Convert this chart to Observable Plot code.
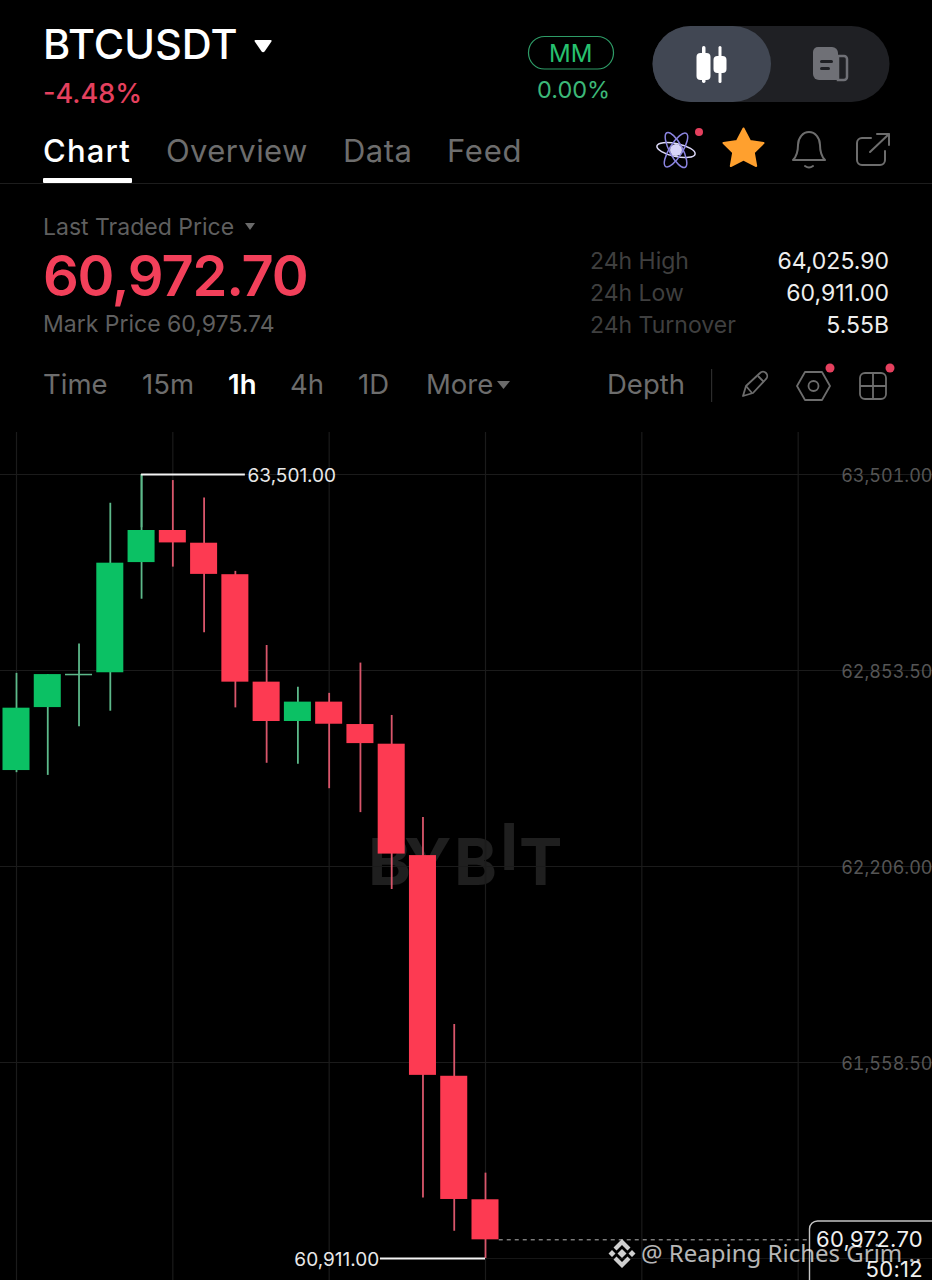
<!DOCTYPE html>
<html>
<head>
<meta charset="utf-8">
<script src="https://cdn.jsdelivr.net/npm/d3@7"></script>
<script src="https://cdn.jsdelivr.net/npm/@observablehq/plot@0.6"></script>
<style>
html,body{margin:0;padding:0;background:#000;width:932px;height:1280px;overflow:hidden}
#page{position:relative;width:932px;height:1280px;overflow:hidden;background:#000;font-family:Inter,sans-serif}
#page span.t{position:absolute;line-height:1;white-space:nowrap}
#page>svg{position:absolute;left:0}
</style>
</head>
<body>
<div id="page"></div>
<script>
// ---- chart data ----
const candleIndex = [0,1,2,3,4,5,6,7,8,9,10,11,12,13,14,15];
const opens  = [62523,62731,62836,62846,63210,63316,63274,63170,62815,62685,62749,62675,62610,62242,61513,61105];
const closes = [62729,62840,62841,63208,63316,63275,63171,62815,62685,62749,62676,62612,62247,61516,61106,60972.7];
const highs  = [62844,62840,62941,63406,63501,63481,63423,63181,62936,62798,62778,62878,62705,62368,61684,61193];
const lows   = [62516,62507,62668,62719,63089,63195,62978,62730,62547,62544,62463,62384,62130,61111,61001,60911];
const priceTicks = [63501,62853.5,62206,61558.5];
const timeGrid = [0,5,10,15,20,25];
const highValue = 63501, lowValue = 60911, lastValue = 60972.7;

const RED = "#fd3a52", GREEN = "#0bc164", RED_W = "#d9566b", GREEN_W = "#5db98a";
const candles = candleIndex.map((i,k)=>({i,open:opens[k],close:closes[k],high:highs[k],low:lows[k],up:closes[k]>=opens[k]}));
const fmt = d3.format(",.2f");

const page = document.getElementById("page");
function T(text,x,base,size,color,opt={}){
  const s=document.createElement("span");s.className="t";s.textContent=text;
  s.style.fontSize=size+"px";s.style.color=color;
  s.style.top=(base-0.864*size)+"px";
  if(opt.right!==undefined){s.style.right=(932-opt.right)+"px"}else{s.style.left=x+"px"}
  if(opt.weight)s.style.fontWeight=opt.weight;
  if(opt.ls)s.style.letterSpacing=opt.ls+"px";
  if(opt.family)s.style.fontFamily=opt.family;
  page.appendChild(s);return s;
}

// ---- chrome: shapes ----
const GR="#6d6d6d";
const shapes=`<svg width="932" height="432" style="top:0" aria-hidden="true">
<path d="M255.5 40h15q1.800 0 .8 1.800l-6.500 9.500q-1.800 2-3.400 0l-6.500-9.500q-1-1.800.6-1.800z" fill="#fff"/>
<rect x="528.500" y="36.500" width="85" height="32.500" rx="16" fill="none" stroke="#2e9c67" stroke-width="1.200"/>
<rect x="652.500" y="26" width="237" height="76" rx="38" fill="#1f2024"/>
<rect x="652.500" y="26" width="118.500" height="76" rx="38" fill="#414753"/>
<g fill="#fff"><rect x="702" y="46" width="3.500" height="37" rx="1.700"/><rect x="696.500" y="53" width="14" height="27" rx="4"/><rect x="718.500" y="46" width="3" height="37" rx="1.500"/><rect x="713.500" y="56" width="13" height="17" rx="4"/></g>
<path d="M813 52a5 5 0 0 1 5-5h14a6 6 0 0 1 6 6v27h-19a6 6 0 0 1-6-6z" fill="#6f7076"/><path d="M838 56h6a3 3 0 0 1 3 3v18a3 3 0 0 1-3 3h-6z" fill="none" stroke="#6f7076" stroke-width="2.500"/><rect x="820" y="60" width="13" height="3" rx="1.500" fill="#1f2024"/><rect x="820" y="67" width="10" height="3" rx="1.500" fill="#1f2024"/>
<g fill="none" stroke-width="1.500"><ellipse cx="676" cy="150" rx="19.500" ry="6.500" transform="rotate(12 676 150)" stroke="#dcd9f8"/><ellipse cx="676" cy="150" rx="19.500" ry="6.500" transform="rotate(62 676 150)" stroke="#8b84e0"/><ellipse cx="676" cy="150" rx="19.500" ry="6.500" transform="rotate(-58 676 150)" stroke="#8b84e0"/></g><circle cx="676" cy="150" r="6" fill="#d8d4fa"/>
<circle cx="699" cy="132" r="4" fill="#e5405e"/>
<path d="M743.500 128.500l6.500 12.500 13.500 2-9.700 9.500 2.400 13.500-12.700-6.500-12.700 6.500 2.400-13.500-9.700-9.500 13.500-2z" fill="#ffa02e" stroke="#ffa02e" stroke-width="2" stroke-linejoin="round"/>
<g fill="none" stroke="${GR}" stroke-width="2" stroke-linecap="round" stroke-linejoin="round"><path d="M793 160c4-4 5-8 5-15a11 13 0 0 1 22 0c0 7 1 11 5 15z"/><path d="M805 166q4 3 8 0"/>
<path d="M871 138h-9a5 5 0 0 0-5 5v17a5 5 0 0 0 5 5h18a5 5 0 0 0 5-5v-9"/><path d="M870 152l19-18M877 134h12v11"/></g>
<path d="M245 223h10l-5 7z" fill="#6a6a6a"/><path d="M497 381h13l-6.500 8z" fill="#6a6a6a"/>
<rect x="711" y="369" width="1.200" height="33" fill="#2c2c2c"/>
<g fill="none" stroke="${GR}" stroke-width="1.800" stroke-linejoin="round"><path d="M743 396l3-10 14-13a4 4 0 0 1 6 6l-13 14z"/><path d="M758 376l6 6M746 386l6 7"/>
<path d="M805 372h17l8 14-8 14h-17l-8-14z"/><circle cx="813.500" cy="386" r="5"/>
<rect x="860" y="373" width="26" height="26" rx="5"/><path d="M873 373v26M860 386h26"/></g>
<circle cx="830" cy="368" r="4.500" fill="#e5405e"/><circle cx="890" cy="368" r="4.500" fill="#e5405e"/>
<rect x="0" y="183" width="932" height="1" fill="#1d1d1d"/><rect x="43" y="178" width="89" height="5" rx="1" fill="#fff"/>
</svg>`;
page.insertAdjacentHTML("beforeend",shapes);

// ---- chrome: text ----
T("BTCUSDT",43,60,41.500,"#fff",{weight:500});
T("-4.48%",43,103,27,"#e5405e",{weight:500});
T("Chart",43,162,31,"#fff",{weight:500,ls:1.200});
T("Overview",166,162,31,GR,{ls:0.400});
T("Data",343,162,31,GR,{ls:0.500});
T("Feed",447,162,31,GR,{ls:0.800});
T("MM",549,63,24,"#27c16f");
T("0.00%",537,98,23.500,"#3cb878");
T("Last Traded Price",43,236,23,"#5f5f5f");
T("60,972.70",43,296,56,"#f2405a",{weight:600,ls:-1.200});
T("Mark Price 60,975.74",43,333,23,"#5f5f5f");
T("24h High",590,270,23,"#3f3f3f");
T("24h Low",590,302,23,"#3f3f3f");
T("24h Turnover",590,334,23,"#3f3f3f");
T("64,025.90",0,270,23,"#eee",{right:889});
T("60,911.00",0,302,23,"#eee",{right:889});
T("5.55B",0,334,23,"#eee",{right:889});
T("Time",43,395,27.500,GR);
T("15m",142,395,27.500,GR);
T("1h",228,395,27.500,"#fff",{weight:600});
T("4h",290,395,27.500,GR);
T("1D",358,395,27.500,GR);
T("More",426,395,27.500,GR);
T("Depth",607,395,27.500,GR);

// ---- watermark, behind the chart ----
[["B",368,885],["Y",404,885],["B",454,885],["I",500,870],["T",519,885]].forEach(([c,x,b])=>T(c,x,b,65,"#1f1f1f",{weight:700}));

// ---- chart ----
const chart = Plot.plot({
  width:932,height:848,
  marginTop:0,marginRight:0,marginBottom:0,marginLeft:0,
  style:{background:"transparent",fontFamily:"Inter,sans-serif",color:"#5a5a5a",overflow:"visible"},
  x:{domain:[0,15],range:[16,485],axis:null},
  y:{domain:[lowValue,highValue],range:[826,42],axis:null},
  marks:[
    Plot.ruleX(timeGrid,{x:d=>d,stroke:"#1b1b1b",strokeWidth:1.200}),
    Plot.ruleY(priceTicks,{y:d=>d,stroke:"#1b1b1b",strokeWidth:1.200}),
    Plot.ruleY([lowValue],{y:d=>d,x1:15,x2:29.400,stroke:"#161616"}),
    Plot.axisY(priceTicks,{anchor:"right",tickSize:0,tickPadding:0,textAnchor:"end",tickFormat:fmt,fontSize:18,fill:"#555",label:null,dy:2}),
    Plot.ruleX(candles,{x:"i",y1:"low",y2:"high",stroke:d=>d.up?GREEN_W:RED_W,strokeWidth:1.800}),
    Plot.rect(candles,{x1:d=>d.i-0.432,x2:d=>d.i+0.432,y1:"open",y2:"close",fill:d=>d.up?(d.i===2?GREEN_W:GREEN):RED}),
    Plot.ruleX([4],{x:d=>d,y1:63325,y2:highValue,stroke:GREEN_W,strokeWidth:1.800}),
    Plot.ruleY([highValue],{y:d=>d,x1:4,x2:7.320,stroke:"#f4f4f4",strokeWidth:1.800}),
    Plot.ruleY([lowValue],{y:d=>d,x1:11.640,x2:15,stroke:"#f4f4f4",strokeWidth:1.800}),
    Plot.ruleY([lastValue],{y:d=>d,x1:15.440,x2:25.360,stroke:"#b5b5b5",strokeWidth:1,strokeDasharray:"4 4"}),
    Plot.text([highValue],{y:d=>d,x:7.390,text:fmt,textAnchor:"start",fill:"#e8e8e8",fontSize:19,dy:1.500}),
    Plot.text([lowValue],{y:d=>d,x:11.600,text:fmt,textAnchor:"end",fill:"#e8e8e8",fontSize:19,dy:1.500})
  ]
});
chart.style.top="432px";
page.appendChild(chart);

// ---- current-price tag and image watermark, on top of the chart ----
page.insertAdjacentHTML("beforeend",`<svg width="932" height="100" style="top:1180px" aria-hidden="true">
<rect x="809.500" y="41" width="140" height="90" rx="8" fill="none" stroke="#c4c4c4" stroke-width="1.400"/>
<g fill="#cfcfcf"><path d="M622 59l8.500 8.500-3 3-5.500-5.500-5.500 5.500-3-3z"/><path d="M622 88l8.500-8.500-3-3-5.500 5.500-5.500-5.500-3 3z"/><path d="M622 69l4.500 4.500-4.500 4.500-4.500-4.500z"/><path d="M612 70l3.500 3.500-3.500 3.500-3.500-3.500zM632 70l3.500 3.500-3.500 3.500-3.500-3.500z"/></g></svg>`);
T("60,972.70",0,1247,22,"#efefef",{right:923,ls:0.300});
T("50:12",0,1277,22,"#efefef",{right:923,ls:0.300});
T("@ Reaping Riches Grim ..",641,1262,24,"rgba(255,255,255,.72)",{family:"'Noto Sans',sans-serif"});
</script>
</body>
</html>
